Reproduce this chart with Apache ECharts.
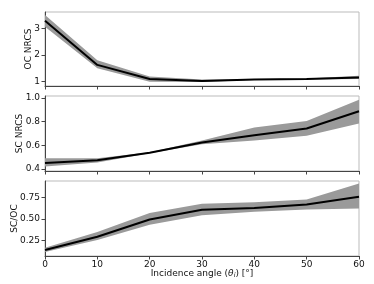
<!DOCTYPE html>
<html><head><meta charset="utf-8">
<script src="https://cdn.jsdelivr.net/npm/echarts@6/dist/echarts.min.js"></script>
<style>html,body{margin:0;padding:0;background:#fff}#c{width:374px;height:284px}</style>
</head><body><div id="c"></div>
<script>
const angles = [0, 10, 20, 30, 40, 50, 60];
const ocMean = [3.28, 1.63, 1.10, 1.03, 1.08, 1.10, 1.16];
const ocLow  = [3.06, 1.50, 1.00, 0.99, 1.06, 1.08, 1.10];
const ocHigh = [3.50, 1.80, 1.20, 1.08, 1.10, 1.12, 1.22];
const scMean = [0.450, 0.473, 0.537, 0.624, 0.686, 0.742, 0.888];
const scLow  = [0.420, 0.455, 0.533, 0.610, 0.640, 0.680, 0.784];
const scHigh = [0.490, 0.490, 0.541, 0.640, 0.750, 0.806, 0.986];
const rMean = [0.142, 0.296, 0.496, 0.608, 0.630, 0.670, 0.760];
const rLow  = [0.120, 0.258, 0.435, 0.546, 0.585, 0.611, 0.623];
const rHigh = [0.170, 0.350, 0.570, 0.677, 0.696, 0.727, 0.912];
const ocTicks = [1, 2, 3];
const scTicks = [0.4, 0.6, 0.8, 1.0];
const rTicks = [0.25, 0.50, 0.75];

const font = 'DejaVu Sans';
const fs = 9;
function diff(h,l){ return h.map((v,i)=>v-l[i]); }

const grids = [
  {left:45, right:15, top:12, height:74, containLabel:false, outerBoundsMode:'none'},
  {left:45, right:15, top:96, height:75, containLabel:false, outerBoundsMode:'none'},
  {left:45, right:15, top:181, height:75, containLabel:false, outerBoundsMode:'none'}
];
function xAx(idx, showLabels){
  return {type:'category', gridIndex:idx, data:angles.map(String), boundaryGap:false,
    axisLine:{show:true, onZero:false, lineStyle:{color:'#444', width:1}},
    axisTick:{show:true, length:3.5, lineStyle:{color:'#444'}},
    axisLabel:{show:showLabels, fontFamily:font, fontSize:fs, color:'#111', margin:4},
    splitLine:{show:false}
  };
}
function yAx(idx, min, max, ticks, dec, name, gap){
  return {type:'value', gridIndex:idx, min:min, max:max,
    axisLine:{show:true, lineStyle:{color:'#444', width:1}},
    axisTick:{show:true, length:3.5, lineStyle:{color:'#444'}, customValues:ticks},
    axisLabel:{fontFamily:font, fontSize:fs, color:'#111', margin:5, customValues:ticks,
      formatter:v=>Number(v).toFixed(dec)},
    splitLine:{show:false},
    name:name, nameLocation:'middle', nameGap:gap, nameRotate:90, nameMoveOverlap:false,
    nameTextStyle:{fontFamily:font, fontSize:fs, color:'#111', align:'center', verticalAlign:'middle'}
  };
}
const xAxes = [xAx(0,false), xAx(1,false), xAx(2,true)];
xAxes[2].name = '{n|Incidence angle (}{i|θ}{s|i}{n|) [°]}';
xAxes[2].nameLocation = 'middle';
xAxes[2].nameGap = 17.5;
xAxes[2].nameMoveOverlap = false;
xAxes[2].nameTextStyle = {align:'center', verticalAlign:'middle', rich:{
  n:{fontFamily:font, fontSize:fs, color:'#111'},
  i:{fontFamily:font, fontSize:fs, color:'#111', fontStyle:'italic'},
  s:{fontFamily:font, fontSize:6.5, color:'#111', fontStyle:'italic', verticalAlign:'bottom', padding:[4,0,0,0]}
}};
const yAxes = [
  yAx(0, 0.84, 3.61, ocTicks, 0, 'OC NRCS', 16),
  yAx(1, 0.383, 1.017, scTicks, 1, 'SC NRCS', 25),
  yAx(2, 0.073, 0.942, rTicks, 2, 'SC/OC', 30)
];
function band(idx, lo, hi, mean){
  const st = 'b'+idx;
  return [
    {type:'line', xAxisIndex:idx, yAxisIndex:idx, data:lo, stack:st, symbol:'none',
     lineStyle:{opacity:0}, silent:true, z:1},
    {type:'line', xAxisIndex:idx, yAxisIndex:idx, data:diff(hi,lo), stack:st, symbol:'none',
     lineStyle:{opacity:0}, areaStyle:{color:'#9a9a9a', opacity:1}, silent:true, z:1},
    {type:'line', xAxisIndex:idx, yAxisIndex:idx, data:mean, symbol:'none',
     lineStyle:{color:'#000', width:2}, z:3}
  ];
}
const frames = grids.map((g,i)=>({type:'rect', shape:{x:g.left, y:g.top, width:374-g.left-g.right, height:g.height},
  style:{fill:'none', stroke:'#bbb', lineWidth:1}, z:0}));
const chart = echarts.init(document.getElementById('c'), null, {renderer:'canvas'});
chart.setOption({
  animation:false,
  grid:grids,
  xAxis:xAxes,
  yAxis:yAxes,
  graphic:frames,
  series:[...band(0,ocLow,ocHigh,ocMean), ...band(1,scLow,scHigh,scMean), ...band(2,rLow,rHigh,rMean)]
});
</script></body></html>
